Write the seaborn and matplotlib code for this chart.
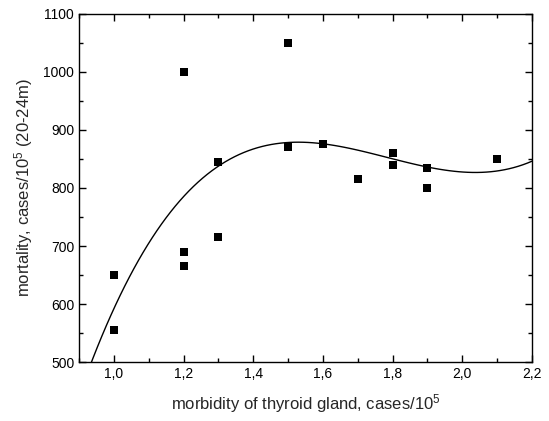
import numpy as np
import pandas as pd
import matplotlib
matplotlib.use("Agg")
import matplotlib.pyplot as plt
from matplotlib.ticker import MultipleLocator, FuncFormatter
import seaborn as sns

sns.set_style("ticks")
plt.rcParams['font.family'] = ['Liberation Sans', 'DejaVu Sans']
plt.rcParams['mathtext.fontset'] = 'custom'
plt.rcParams['mathtext.rm'] = 'Liberation Sans'
plt.rcParams['mathtext.it'] = 'Liberation Sans'

# values
morbidity = [1.0, 1.0, 1.2, 1.2, 1.2, 1.3, 1.3, 1.5, 1.5, 1.6, 1.7, 1.8, 1.8, 1.9, 1.9, 2.1]
mortality = [650, 555, 1000, 690, 665, 845, 715, 1050, 870, 875, 815, 860, 840, 835, 800, 850]

data = pd.DataFrame({'morbidity': morbidity, 'mortality': mortality})

fig = plt.figure(figsize=(5.49, 4.21), dpi=100)
ax = fig.add_axes([0.144, 0.140, 0.825, 0.827])
ax.set_xlim(0.9, 2.2)
ax.set_ylim(500, 1100)

# cubic fit line
sns.regplot(x='morbidity', y='mortality', data=data, order=3, ci=None,
            scatter=False, truncate=False, color='black',
            line_kws={'linewidth': 1.0}, ax=ax)
sns.scatterplot(x='morbidity', y='mortality', data=data, marker='s', s=40,
                color='black', edgecolor='black', linewidth=0, ax=ax, zorder=3)

ax.set_xlim(0.9, 2.2)
ax.set_ylim(500, 1100)
ax.xaxis.set_major_locator(MultipleLocator(0.2))
ax.xaxis.set_minor_locator(MultipleLocator(0.1))
ax.yaxis.set_major_locator(MultipleLocator(100))
ax.yaxis.set_minor_locator(MultipleLocator(50))
ax.xaxis.set_major_formatter(FuncFormatter(lambda v, p: f"{v:.1f}".replace('.', ',')))
ax.tick_params(which='both', direction='in', top=True, right=True, width=1.0,
               labelsize=10, colors='black')
ax.tick_params(which='major', length=5)
ax.tick_params(which='minor', length=3)
for s in ax.spines.values():
    s.set_linewidth(1.0)
    s.set_color('black')

ax.set_xlabel('morbidity of thyroid gland, cases/10$^{5}$', fontsize=12, labelpad=8)
ax.set_ylabel('mortality, cases/10$^{5}$ (20-24m)', fontsize=12, labelpad=6)

fig.savefig('out.png', dpi=100)
